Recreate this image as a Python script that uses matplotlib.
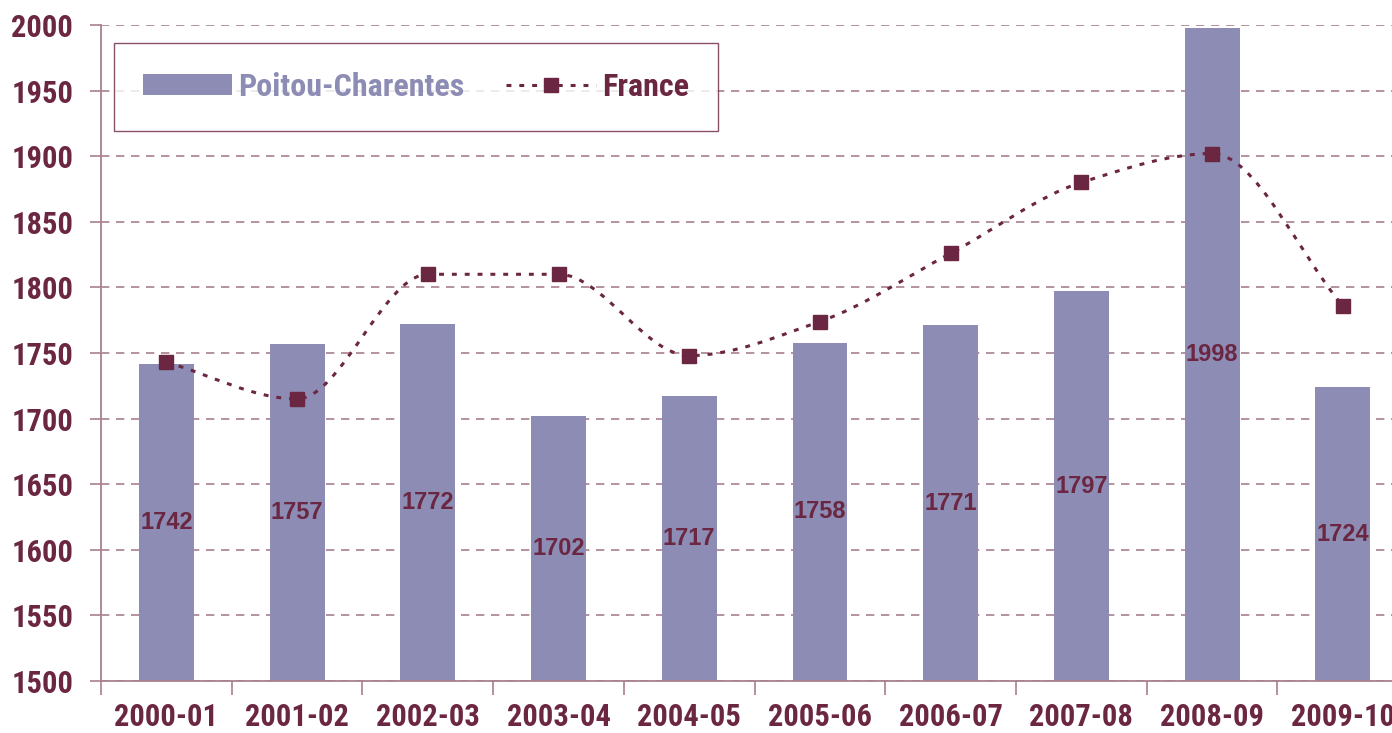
import numpy as np
import matplotlib
matplotlib.use("Agg")
import matplotlib.pyplot as plt
from matplotlib.path import Path
from matplotlib.patches import PathPatch, Patch
from matplotlib.lines import Line2D
from matplotlib import font_manager

# data
years = ["2000-01", "2001-02", "2002-03", "2003-04", "2004-05",
         "2005-06", "2006-07", "2007-08", "2008-09", "2009-10"]
poitou = [1742, 1757, 1772, 1702, 1717, 1758, 1771, 1797, 1998, 1724]
france = [1743, 1715, 1810, 1810, 1748, 1774, 1826, 1880, 1902, 1786]

MAROON = "#6B2641"
LAVENDER = "#8C8CB4"
GRID = "#A8808F"

# narrow font for axes/legend (Arial Narrow look), first one found
names = {f.name for f in font_manager.fontManager.ttflist}
NARROW, nsize = "Liberation Sans", 20
for fam, sz in [("Liberation Sans Narrow", 24), ("Arial Narrow", 24),
                ("Roboto Condensed", 22), ("PT Sans Narrow", 24),
                ("Archivo Narrow", 23)]:
    if fam in names:
        NARROW, nsize = fam, sz
        break

plt.rcParams["font.family"] = ["Liberation Sans", "DejaVu Sans"]
plt.rcParams["font.weight"] = "bold"

fig = plt.figure(figsize=(13.92, 7.33), dpi=100)
ax = fig.add_axes([0.0726, 0.0709, 0.939, 0.895])

x = np.arange(len(years))
ax.bar(x, [v - 1500 for v in poitou], bottom=1500, width=0.42,
       color=LAVENDER, zorder=2)

# value labels centred inside the bars
for xi, v in zip(x, poitou):
    ax.text(xi, (1500 + v) / 2, str(v), ha="center", va="center",
            fontsize=17, fontweight="bold", color=MAROON, zorder=4)

# smoothed line: monotone cubic (Fritsch-Carlson) as bezier segments
xs = x.astype(float)
ys = np.array(france, dtype=float)
d = np.diff(ys) / np.diff(xs)
m = np.zeros_like(ys)
m[0], m[-1] = d[0], d[-1]
for i in range(1, len(ys) - 1):
    if d[i - 1] * d[i] <= 0:
        m[i] = 0.0
    else:
        m[i] = 2.0 / (1.0 / d[i - 1] + 1.0 / d[i])
verts = [(xs[0], ys[0])]
codes = [Path.MOVETO]
for i in range(len(ys) - 1):
    h = xs[i + 1] - xs[i]
    verts += [(xs[i] + h / 3, ys[i] + m[i] * h / 3),
              (xs[i + 1] - h / 3, ys[i + 1] - m[i + 1] * h / 3),
              (xs[i + 1], ys[i + 1])]
    codes += [Path.CURVE4] * 3
LS = (0, (1.6, 2.6))
curve = PathPatch(Path(verts, codes), facecolor="none", edgecolor=MAROON,
                  lw=2.2, linestyle=LS, zorder=3)
ax.add_patch(curve)
ax.plot(x, france, ls="none", marker="s", markersize=9.5,
        color=MAROON, zorder=5)

ax.set_xlim(-0.5, len(years) - 0.5)
ax.set_ylim(1500, 2000)
ax.set_yticks(np.arange(1500, 2001, 50))
ax.yaxis.grid(True, linestyle=(0, (5, 4)), color=GRID, lw=1.2, zorder=0)
ax.set_axisbelow(True)

# x: tick marks at category borders, labels at centres
ax.set_xticks(np.arange(-0.5, len(years), 1.0))
ax.set_xticklabels([])
ax.set_xticks(x, minor=True)
ax.set_xticklabels(years, minor=True)
ax.tick_params(axis="x", which="major", direction="out", length=10,
               color=GRID, width=1.2)
ax.tick_params(axis="x", which="minor", length=0, pad=15,
               labelcolor=MAROON)
ax.tick_params(axis="y", direction="out", length=8, color=GRID, width=1.2,
               labelcolor=MAROON, pad=12)
for lab in ax.get_xticklabels(minor=True) + ax.get_yticklabels():
    lab.set_fontweight("bold")
    lab.set_family(NARROW)
    lab.set_fontsize(nsize)

for s in ["top", "right"]:
    ax.spines[s].set_visible(False)
for s in ["left", "bottom"]:
    ax.spines[s].set_color(GRID)
    ax.spines[s].set_linewidth(1.3)

handles = [Patch(facecolor=LAVENDER, edgecolor="none"),
           Line2D([], [], color=MAROON, lw=2.2, linestyle=LS,
                  marker="s", markersize=9.5)]
leg = ax.legend(handles, ["Poitou-Charentes", "France"], ncol=2,
                loc="upper left", bbox_to_anchor=(114 / 1392, 1 - 43 / 733),
                bbox_transform=fig.transFigure,
                prop={"family": NARROW, "size": nsize + 1, "weight": "bold"},
                frameon=True, fancybox=False, borderpad=0.9,
                handlelength=2.8, handleheight=0.6, handletextpad=0.2,
                columnspacing=1.3, borderaxespad=0)
leg.get_frame().set_edgecolor(MAROON)
leg.get_frame().set_linewidth(1.0)
texts = leg.get_texts()
texts[0].set_color(LAVENDER)
texts[1].set_color(MAROON)

fig.savefig("out.png", dpi=100)
